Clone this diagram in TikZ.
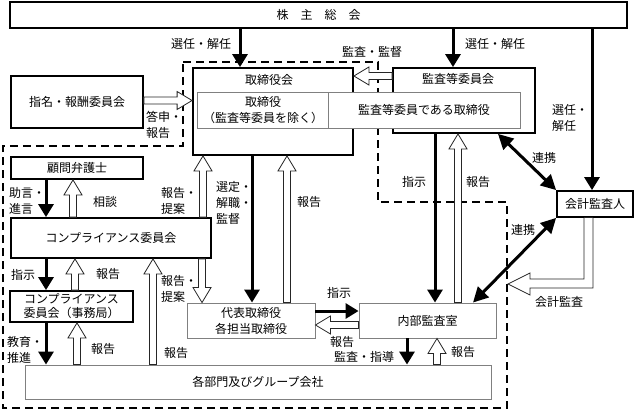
\documentclass[tikz,border=0pt]{standalone}
\usepackage{fontspec}
\setmainfont{Noto Sans CJK JP}
\usetikzlibrary{arrows.meta,calc}

\tikzset{
  box/.style={draw, line width=1.8pt, fill=white, inner sep=0pt, align=center},
  gbox/.style={draw=gray, line width=0.9pt, fill=white, inner sep=0pt, align=center},
  thk/.style={line width=3pt, -{Triangle[length=13pt,width=15pt]}},
  both/.style={line width=3pt, {Triangle[length=15pt,width=15pt]}-{Triangle[length=15pt,width=15pt]}},
  hol/.style={draw=black!85, line width=0.8pt, fill=white},
  lbl/.style={inner sep=0pt, align=left},
  dsh/.style={line width=1.8pt, dash pattern=on 8pt off 5pt},
}

% hollow arrow from #1 to #2 (tip at #2)
\newcommand\hollow[2]{%
  \filldraw[hol] let \p1=($#2!15pt!#1$) in
    ($#1!3.5pt!90:#2$) -- ($(\p1)!3.5pt!90:#2$) -- ($(\p1)!9pt!90:#2$) -- #2
    -- ($(\p1)!9pt!-90:#2$) -- ($(\p1)!3.5pt!-90:#2$) -- ($#1!3.5pt!-90:#2$) -- cycle;}

\begin{document}
\begin{tikzpicture}[x=1pt,y=-1pt,every node/.style={font=\fontsize{12}{16}\selectfont}]
  \useasboundingbox (0,0) rectangle (634,412);

  % dashed region
  \draw[dsh] (183,62) -- (378,62) -- (378,202) -- (507,202) -- (507,408)
    -- (3,408) -- (3,146) -- (183,146) -- cycle;

  % boxes
  \node[box, minimum width=617pt, minimum height=26pt] (soukai) at (318.5,15) {株　主　総　会};
  \node[box, minimum width=160pt, minimum height=87pt] (torikai) at (273,111.5) {};
  \node (torikaiT) at (269,80) {取締役会};
  \node[gbox, minimum width=132pt, minimum height=36pt] (tori) at (263,110) {取締役\\（監査等委員を除く）};
  \node[box, minimum width=142pt, minimum height=65pt] (kansakai) at (464,100.5) {};
  \node (kansakaiT) at (458,79) {監査等委員会};
  \node[gbox, minimum width=192pt, minimum height=36pt] (kansatori) at (424,110) {監査等委員である取締役};
  \node[box, minimum width=132pt, minimum height=52pt] (shimei) at (77,102) {指名・報酬委員会};
  \node[box, minimum width=132pt, minimum height=22pt] (komon) at (77,168) {顧問弁護士};
  \node[box, minimum width=200pt, minimum height=40pt] (compl) at (111,238) {コンプライアンス委員会};
  \node[box, minimum width=123pt, minimum height=31pt, font=\fontsize{12}{14}\selectfont] (jimu) at (71.5,306.5) {コンプライアンス\\委員会（事務局）};
  \node[gbox, minimum width=128pt, minimum height=35pt] (daihyo) at (251,320.5) {代表取締役\\各担当取締役};
  \node[gbox, minimum width=137pt, minimum height=35pt] (naibu) at (427.5,320.5) {内部監査室};
  \node[gbox, minimum width=466pt, minimum height=34pt] (kakubu) at (258,382) {各部門及びグループ会社};
  \node[box, minimum width=76pt, minimum height=26pt] (kaikei) at (595,204) {会計監査人};

  % thick arrows
  \draw[thk] (soukai.south -| 240,0) -- (torikai.north -| 240,0);
  \draw[thk] (soukai.south -| 453,0) -- (kansakai.north -| 453,0);
  \draw[thk] (soukai.south -| 592,0) -- (kaikei.north -| 592,0);
  \draw[thk] (torikai.south -| 252,0) -- (daihyo.north -| 252,0);
  \draw[thk] (kansakai.south -| 435,0) -- (naibu.north -| 435,0);
  \draw[thk] (daihyo.east |- 0,311) -- (naibu.west |- 0,311);
  \draw[thk] (naibu.south -| 407,0) -- (kakubu.north -| 407,0);
  \foreach \a/\b in {komon/compl, compl/jimu, jimu/kakubu}
    \draw[thk] (\a.south -| 46,0) -- (\b.north -| 46,0);
  \draw[both] (kansakai.south -| 498,0) -- (kaikei.north west);
  \draw[both] (naibu.north -| 473,0) -- (kaikei.south west);

  % hollow arrows
  \hollow{(shimei.east |- 0,100.5)}{(torikai.west |- 0,100.5)}
  \hollow{(kansakai.west |- 0,76)}{(torikai.east |- 0,76)}
  \hollow{(compl.north -| 203,0)}{(torikai.south -| 203,0)}
  \hollow{(daihyo.north -| 287,0)}{(torikai.south -| 287,0)}
  \hollow{(naibu.north -| 458,0)}{(kansakai.south -| 458,0)}
  \hollow{(compl.north -| 73,0)}{(komon.south -| 73,0)}
  \hollow{(jimu.north -| 75,0)}{(compl.south -| 75,0)}
  \hollow{(kakubu.north -| 153,0)}{(compl.south -| 153,0)}
  \hollow{(compl.south -| 202,0)}{(daihyo.north -| 202,0)}
  \hollow{(kakubu.north -| 77,0)}{(jimu.south -| 77,0)}
  \hollow{(naibu.west |- 0,325)}{(daihyo.east |- 0,325)}
  \hollow{(kakubu.north -| 437,0)}{(naibu.south -| 437,0)}
  \filldraw[hol] (kaikei.south -| 584,0) -- (584,279) -- (530,279) -- (530,273) -- (508,284)
    -- (530,295) -- (530,288) -- (593,288) -- (kaikei.south -| 593,0);

  % labels
  \node[lbl] (sen1) at (201,44) {選任・解任};
  \node[lbl] (sen2) at (495,44) {選任・解任};
  \node[lbl, anchor=west] (sen3) at (552,118) {選任・\\解任};
  \node[lbl] (kantoku) at (372,52) {監査・監督};
  \node[lbl, anchor=west] (toshin) at (146,125) {答申・\\報告};
  \node[lbl] (renkei1) at (544,158) {連携};
  \node[lbl] (renkei2) at (523,230) {連携};
  \node[lbl] (kaikeikansa) at (559,302) {会計監査};
  \node[lbl, anchor=west] (teian1) at (161,201) {報告・\\提案};
  \node[lbl, anchor=west] (teian2) at (161,289) {報告・\\提案};
  \node[lbl, anchor=west] (sentei) at (216,203) {選定・\\解職・\\監督};
  \node[lbl, anchor=west] (jogen) at (9,201) {助言・\\進言};
  \node[lbl, anchor=west] (kyoiku) at (7,350) {教育・\\推進};
  \node[lbl] (sodan) at (105,202) {相談};
  \node[lbl] (shiji1) at (414,182) {指示};
  \node[lbl] (shiji2) at (23,275) {指示};
  \node[lbl] (shiji3) at (339,293) {指示};
  \node[lbl] (shido) at (364,357) {監査・指導};
  \foreach \p [count=\i] in {(309,202),(478,182),(108,274),(176,353),(103,349),(342,342),(463,352)}
    \node[lbl] (hokoku\i) at \p {報告};
\end{tikzpicture}
\end{document}
